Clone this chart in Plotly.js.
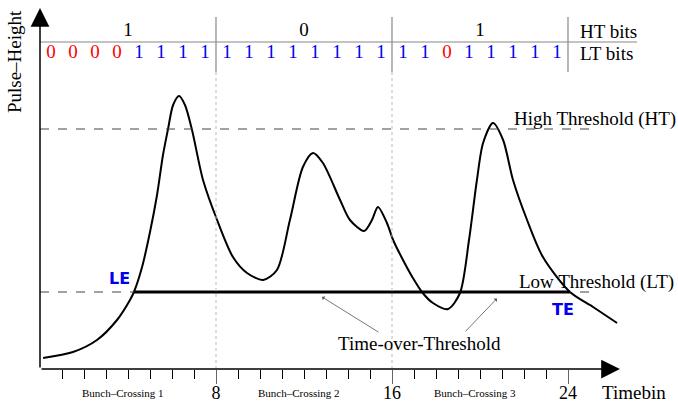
<!DOCTYPE html>
<html>
<head>
<meta charset="utf-8">
<script src="https://cdn.plot.ly/plotly-3.0.1.min.js"></script>
<style>html,body{margin:0;padding:0;background:#fff;}#chart{width:678px;height:402px;}</style>
</head>
<body>
<div id="chart"></div>
<script>
// ---- data (timebin units, arbitrary pulse-height units) ----
const pulseTime = [0.14,1.5,2.59,3.5,4.09,4.27,4.64,5.0,5.32,5.59,5.82,6.05,6.32,6.59,6.91,7.41,8.05,8.77,9.41,10.14,10.77,11.36,11.95,12.41,12.86,13.64,14.09,14.73,15.09,15.36,15.77,16.05,16.5,16.95,17.36,17.86,18.55,19.09,19.5,19.86,20.14,20.59,21.05,21.5,22.14,22.86,24.09,25.14,26.23];
const pulseHeight = [1.1,1.7,2.9,4.9,6.9,7.7,10.2,13.7,17.4,21.4,24.0,26.4,27.3,26.4,23.9,18.9,14.9,11.2,9.6,8.9,9.9,14.9,20.2,21.6,20.6,16.9,14.9,13.8,14.9,16.2,14.6,12.9,10.9,9.1,7.7,6.6,6.0,7.6,12.9,18.9,22.6,24.6,22.9,18.9,14.9,11.2,7.7,6.2,4.6];
const highThreshold = 24.0;
const lowThreshold = 7.7;
const totStart = 4.27;   // LE
const totEnd = 24.09;    // TE
const ltBits = [0,0,0,0,1,1,1,1, 1,1,1,1,1,1,1,1, 1,1,0,1,1,1,1,1];
const htBits = [1,0,1];
const bunchLabels = ["Bunch\u2013Crossing 1","Bunch\u2013Crossing 2","Bunch\u2013Crossing 3"];
const majorTicks = [8,16,24];
const minorTicks = [1,2,3,4,5,6,7,9,10,11,12,13,14,15,17,18,19,20,21,22,23];
const bitsPerCrossing = 8;

const serif = "Liberation Serif";
const red = "#ff0000", blue = "#0000ee";

const ltX = ltBits.map((b,i)=>i+0.5);
const htX = htBits.map((b,i)=>i*bitsPerCrossing + bitsPerCrossing/2);

const traces = [
  {x: pulseTime, y: pulseHeight, mode:"lines", line:{color:"#000", width:2, shape:"spline", smoothing:0.8}, hoverinfo:"skip"},
  {x: ltX, y: ltX.map(()=>31.6), mode:"text", text: ltBits.map(String),
   textfont:{family:serif, size:19, color: ltBits.map(b=>b?blue:red)}, textposition:"middle center", hoverinfo:"skip"},
  {x: htX, y: htX.map(()=>33.75), mode:"text", text: htBits.map(String),
   textfont:{family:serif, size:19, color:"#000"}, textposition:"middle center", hoverinfo:"skip"}
];

const shapes = [
  {type:"line", x0:0, x1:25.1, y0:highThreshold, y1:highThreshold, line:{color:"#444", width:1, dash:"dash"}},
  {type:"line", x0:0, x1:25.1, y0:lowThreshold, y1:lowThreshold, line:{color:"#444", width:1, dash:"dash"}},
  {type:"line", x0:totStart, x1:totEnd, y0:lowThreshold, y1:lowThreshold, line:{color:"#000", width:3}},
  {type:"line", x0:0, x1:27.14, y0:32.7, y1:32.7, line:{color:"#888", width:1.2}}
];
majorTicks.forEach(t=>{
  shapes.push({type:"line", x0:t, x1:t, y0:29.7, y1:35.2, line:{color:"#888", width:1.2}});
  if (t < 24) shapes.push({type:"line", x0:t, x1:t, y0:0, y1:29.7, line:{color:"#bbb", width:1, dash:"dot"}});
});

const annotations = [
  // axes arrows
  {x:0, y:36.1, ax:0, ay:0, xref:"x", yref:"y", axref:"x", ayref:"y", text:"", showarrow:true, arrowhead:2, arrowsize:2.5, arrowwidth:1.5, arrowcolor:"#000", standoff:0},
  {x:26.36, y:0, ax:0, ay:0, xref:"x", yref:"y", axref:"x", ayref:"y", text:"", showarrow:true, arrowhead:2, arrowsize:2.5, arrowwidth:1.5, arrowcolor:"#000", standoff:0},
  // ToT arrows
  {x:12.82, y:7.2, ax:15.45, ay:3.6, xref:"x", yref:"y", axref:"x", ayref:"y", text:"", showarrow:true, arrowhead:1, arrowsize:1, arrowwidth:0.8, arrowcolor:"#555"},
  {x:20.77, y:7.05, ax:19.27, ay:3.6, xref:"x", yref:"y", axref:"x", ayref:"y", text:"", showarrow:true, arrowhead:1, arrowsize:1, arrowwidth:0.8, arrowcolor:"#555"},
  {x:17.27, y:2.6, text:"Time-over-Threshold", showarrow:false, font:{family:serif, size:19, color:"#000"}},
  {x:21.45, y:25.0, text:"High Threshold (HT)", xanchor:"left", showarrow:false, font:{family:serif, size:19, color:"#000"}},
  {x:21.68, y:8.7, text:"Low Threshold (LT)", xanchor:"left", showarrow:false, font:{family:serif, size:19, color:"#000"}},
  {x:3.6, y:9.1, text:"<b>LE</b>", showarrow:false, font:{family:"DejaVu Sans", size:16, color:"#0000ee"}},
  {x:23.77, y:6.0, text:"<b>TE</b>", showarrow:false, font:{family:"DejaVu Sans", size:16, color:"#0000ee"}},
  {x:24.45, y:33.75, text:"HT bits", xanchor:"left", showarrow:false, font:{family:serif, size:19, color:"#000"}},
  {x:24.45, y:31.6, text:"LT bits", xanchor:"left", showarrow:false, font:{family:serif, size:19, color:"#000"}},
  {x:25.45, y:-0.065, xref:"x", yref:"paper", text:"Timebin", xanchor:"left", yanchor:"middle", showarrow:false, font:{family:serif, size:19, color:"#000"}},
  {x:-0.039, y:0.832, xref:"paper", yref:"paper", text:"Pulse\u2013Height", textangle:-90, xanchor:"center", yanchor:"middle", showarrow:false, font:{family:serif, size:19, color:"#000"}}
];
bunchLabels.forEach((t,i)=>{
  annotations.push({x:i*bitsPerCrossing+3.75, y:-0.065, xref:"x", yref:"paper", text:t, xanchor:"center", yanchor:"middle", showarrow:false, font:{family:serif, size:11, color:"#000"}});
});

const layout = {
  width:678, height:402,
  margin:{l:40, r:0, t:0, b:33, pad:0},
  paper_bgcolor:"#fff", plot_bgcolor:"#fff",
  showlegend:false, hovermode:false,
  font:{family:serif, color:"#000"},
  xaxis:{range:[0,29], showline:false, showgrid:false, zeroline:false,
         tickmode:"array", tickvals:majorTicks, ticktext:majorTicks.map(String),
         ticks:"outside", ticklen:14, tickwidth:1, tickcolor:"#666", ticklabelstandoff:-7,
         tickfont:{family:serif, size:18, color:"#000"},
         minor:{tickmode:"array", tickvals:minorTicks, ticks:"outside", ticklen:9, tickwidth:1, tickcolor:"#000", showgrid:false},
         fixedrange:true},
  yaxis:{range:[0,36.9], visible:false, fixedrange:true},
  shapes:shapes,
  annotations:annotations
};

Plotly.newPlot("chart", traces, layout, {displayModeBar:false, staticPlot:true});
</script>
</body>
</html>
